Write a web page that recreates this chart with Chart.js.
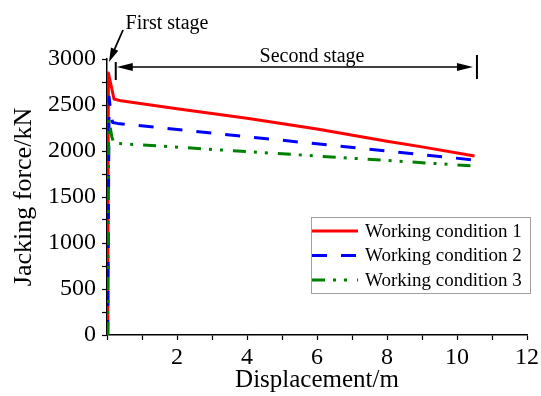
<!DOCTYPE html>
<html>
<head>
<meta charset="utf-8">
<script src="https://cdn.jsdelivr.net/npm/chart.js@4.4.0/dist/chart.umd.min.js"></script>
<style>
  html, body { margin: 0; padding: 0; background: #fff; }
  #wrap { width: 541px; height: 396px; }
</style>
</head>
<body>
<div id="wrap"><canvas id="chart" width="541" height="396"></canvas></div>
<script>
// displacement (m) and jacking force (kN)
const disp1 = [0.02, 0.04, 0.2, 0.4, 2, 4, 6, 8, 9, 10.5];
const force1 = [0, 2848, 2565, 2545, 2460, 2355, 2240, 2105, 2045, 1945];
const disp2 = [0.02, 0.06, 0.1, 0.16, 0.3, 10.5];
const force2 = [0, 2587, 2440, 2310, 2300, 1902];
const disp3 = [0.02, 0.05, 0.14, 0.2, 10.5];
const force3 = [0, 2348, 2150, 2085, 1837];

const seriesNames = ['Working condition 1', 'Working condition 2', 'Working condition 3'];
const xTickLabels = ['', '', '2', '', '4', '', '6', '', '8', '', '10', '', '12'];
const yTickLabels = ['0', '', '500', '', '1000', '', '1500', '', '2000', '', '2500', '', '3000'];

// stage bracket ends (m)
const stage2Start = 0.25;
const stage2End = 10.57;

const serif = "'Liberation Serif', 'Times New Roman', serif";

const toPoints = (xs, ys) => xs.map((x, i) => ({ x: x, y: ys[i] }));

// legend + stage annotations
const extrasPlugin = {
    id: 'extras',
    afterDraw(chart) {
        const ctx = chart.ctx;
        const ca = chart.chartArea;
        const xs = chart.scales.x;
        ctx.save();
        ctx.fillStyle = '#000';
        ctx.strokeStyle = '#000';

        // arrow head helper
        const head = (tx, ty, ang, len, half) => {
            ctx.beginPath();
            ctx.moveTo(tx, ty);
            ctx.lineTo(tx - len * Math.cos(ang) + half * Math.sin(ang), ty - len * Math.sin(ang) - half * Math.cos(ang));
            ctx.lineTo(tx - len * Math.cos(ang) - half * Math.sin(ang), ty - len * Math.sin(ang) + half * Math.cos(ang));
            ctx.closePath();
            ctx.fill();
        };

        // First stage
        ctx.font = '20px ' + serif;
        ctx.textAlign = 'center';
        ctx.textBaseline = 'alphabetic';
        ctx.fillText('First stage', ca.left + 60, ca.top - 30);
        const t0x = ca.left + 16, t0y = ca.top - 29;
        const t1x = ca.left + 2, t1y = ca.top + 3;
        const a1 = Math.atan2(t1y - t0y, t1x - t0x);
        ctx.lineWidth = 1.8;
        ctx.beginPath();
        ctx.moveTo(t0x, t0y);
        ctx.lineTo(t1x - 8 * Math.cos(a1), t1y - 8 * Math.sin(a1));
        ctx.stroke();
        head(t1x, t1y, a1, 14, 4);

        // Second stage
        const lx = xs.getPixelForValue(stage2Start);
        const rx = xs.getPixelForValue(stage2End);
        const ay = ca.top + 8;
        ctx.fillText('Second stage', ca.left + 205, ca.top + 3);
        ctx.lineWidth = 2;
        ctx.beginPath();
        ctx.moveTo(lx, ca.top + 3); ctx.lineTo(lx, ca.top + 21);
        ctx.moveTo(rx, ca.top - 4); ctx.lineTo(rx, ca.top + 20);
        ctx.stroke();
        ctx.lineWidth = 1.5;
        ctx.beginPath();
        ctx.moveTo(lx + 10, ay); ctx.lineTo(rx - 14, ay);
        ctx.stroke();
        head(lx + 1, ay, Math.PI, 16, 4);
        head(rx - 4, ay, 0, 16, 4);

        // legend box
        const bx = ca.right - 216, by = ca.top + 158, bw = 219, bh = 76;
        ctx.lineWidth = 1;
        ctx.strokeStyle = '#a0a0a0';
        ctx.strokeRect(bx + 0.5, by + 0.5, bw, bh);
        ctx.font = '19px ' + serif;
        ctx.textAlign = 'left';
        ctx.textBaseline = 'middle';
        chart.data.datasets.forEach((ds, i) => {
            const ry = by + 14 + i * 24.5;
            ctx.strokeStyle = ds.borderColor;
            ctx.lineWidth = ds.borderWidth;
            ctx.setLineDash(ds.borderDash || []);
            ctx.beginPath();
            ctx.moveTo(bx + 1, ry);
            ctx.lineTo(bx + 47, ry);
            ctx.stroke();
            ctx.setLineDash([]);
            ctx.fillStyle = '#000';
            ctx.fillText(ds.label, bx + 54, ry + 1);
        });
        ctx.restore();
    }
};

const chart = new Chart(document.getElementById('chart'), {
    type: 'line',
    data: {
        datasets: [
            { label: seriesNames[0], data: toPoints(disp1, force1), borderColor: '#ff0000', borderWidth: 3, borderDash: [], order: 3 },
            { label: seriesNames[1], data: toPoints(disp2, force2), borderColor: '#0000ff', borderWidth: 3, borderDash: [15, 14], order: 2 },
            { label: seriesNames[2], data: toPoints(disp3, force3), borderColor: '#008000', borderWidth: 3, borderDash: [13, 8, 3, 8, 3, 10], order: 1 }
        ]
    },
    options: {
        responsive: false,
        animation: false,
        devicePixelRatio: 1,
        layout: { padding: { top: 59, right: 14, left: 0, bottom: 0 } },
        elements: { point: { radius: 0 }, line: { tension: 0, fill: false, borderJoinStyle: 'round' } },
        plugins: { legend: { display: false }, tooltip: { enabled: false } },
        scales: {
            x: {
                type: 'linear',
                min: 0,
                max: 12,
                ticks: {
                    stepSize: 1,
                    autoSkip: false,
                    maxRotation: 0,
                    padding: 3,
                    color: '#000',
                    font: { family: serif, size: 24 },
                    callback: (v, i) => xTickLabels[i]
                },
                grid: { drawOnChartArea: false, tickLength: 5, tickColor: '#000', tickWidth: 1.2 },
                border: { color: '#000', width: 1.5 },
                title: { display: true, text: 'Displacement/m', color: '#000', font: { family: serif, size: 25 }, padding: { top: 0, bottom: 1 } },
                afterFit: s => { s.height = 61; s.paddingLeft = 0; s.paddingRight = 0; }
            },
            y: {
                min: 0,
                max: 3000,
                ticks: {
                    stepSize: 250,
                    autoSkip: false,
                    padding: 6,
                    color: '#000',
                    font: { family: serif, size: 24 },
                    callback: (v, i) => yTickLabels[i]
                },
                grid: { drawOnChartArea: false, tickLength: 5, tickColor: '#000', tickWidth: 1.2 },
                border: { color: '#000', width: 1.5 },
                title: { display: true, text: 'Jacking force/kN', color: '#000', font: { family: serif, size: 26 }, padding: { top: 9, bottom: 0 } },
                afterFit: s => { s.width = 107; s.paddingTop = 0; s.paddingBottom = 0; }
            }
        }
    },
    plugins: [extrasPlugin]
});
</script>
</body>
</html>
